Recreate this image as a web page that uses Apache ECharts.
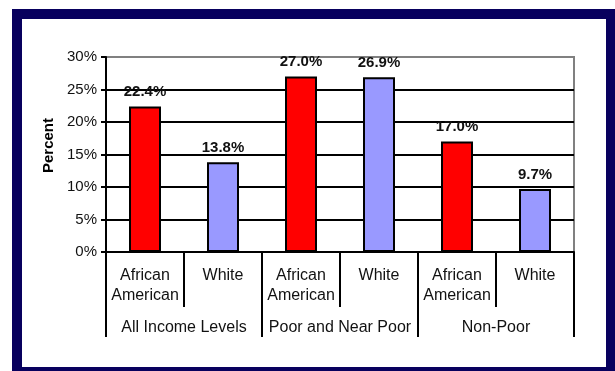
<!DOCTYPE html>
<html>
<head>
<meta charset="utf-8">
<script src="https://cdn.jsdelivr.net/npm/echarts@6/dist/echarts.min.js"></script>
<style>
html,body{margin:0;padding:0;background:#fff;}
#chart{width:615px;height:371px;}
</style>
</head>
<body>
<div id="chart"></div>
<script>
const categories = ['African\nAmerican', 'White', 'African\nAmerican', 'White', 'African\nAmerican', 'White'];
const groups = ['All Income Levels', 'Poor and Near Poor', 'Non-Poor'];
const values = [22.4, 13.8, 27.0, 26.9, 17.0, 9.7];
const barColors = ['#FF0000', '#9999FF', '#FF0000', '#9999FF', '#FF0000', '#9999FF'];
const yTicks = [0, 5, 10, 15, 20, 25, 30];

const FONT = '"Liberation Sans", Arial, sans-serif';
const chart = echarts.init(document.getElementById('chart'), null, {renderer: 'canvas'});
chart.setOption({
  animation: false,
  backgroundColor: '#fff',
  graphic: [{
    type: 'rect',
    shape: {x: 17, y: 14, width: 594, height: 358},
    style: {fill: 'none', stroke: '#08005e', lineWidth: 10},
    silent: true
  }],
  grid: {left: 106, right: 41, top: 57, bottom: 119, show: true, borderColor: '#808080', borderWidth: 2},
  xAxis: [{
    type: 'category',
    data: categories,
    position: 'bottom',
    axisLine: {lineStyle: {color: '#000', width: 2}},
    axisTick: {show: true, interval: 0, length: 55, lineStyle: {color: '#000', width: 2}},
    axisLabel: {interval: 0, margin: 14, fontFamily: FONT, fontSize: 16, lineHeight: 20, color: '#111'}
  }, {
    type: 'category',
    data: groups,
    position: 'bottom',
    axisLine: {show: false},
    axisTick: {show: true, interval: 0, length: 85, lineStyle: {color: '#000', width: 2}},
    axisLabel: {interval: 0, margin: 66, fontFamily: FONT, fontSize: 16, lineHeight: 20, color: '#111'}
  }],
  yAxis: {
    type: 'value',
    min: yTicks[0],
    max: yTicks[yTicks.length - 1],
    interval: 5,
    name: 'Percent',
    nameLocation: 'middle',
    nameRotate: 90,
    nameGap: 48,
    nameTextStyle: {fontFamily: FONT, fontSize: 15, fontWeight: 'bold', color: '#000', padding: [0, 0, 0, 18]},
    axisLine: {show: true, lineStyle: {color: '#000', width: 2}},
    axisTick: {show: true, length: 5, lineStyle: {color: '#000', width: 2}},
    axisLabel: {formatter: '{value}%', fontFamily: FONT, fontSize: 15, color: '#111', margin: 9},
    splitLine: {show: true, lineStyle: {color: ['#000', '#000', '#000', '#000', '#000', '#000', '#808080'], width: 2}}
  },
  series: [{
    type: 'bar',
    xAxisIndex: 0,
    barWidth: 32,
    data: values.map((v, i) => ({value: v, itemStyle: {color: barColors[i]}})),
    itemStyle: {borderColor: '#000', borderWidth: 2},
    label: {
      show: true,
      position: 'top',
      distance: 7,
      formatter: p => p.value.toFixed(1) + '%',
      fontFamily: FONT,
      fontSize: 15,
      fontWeight: 'bold',
      color: '#111'
    }
  }]
});
</script>
</body>
</html>
